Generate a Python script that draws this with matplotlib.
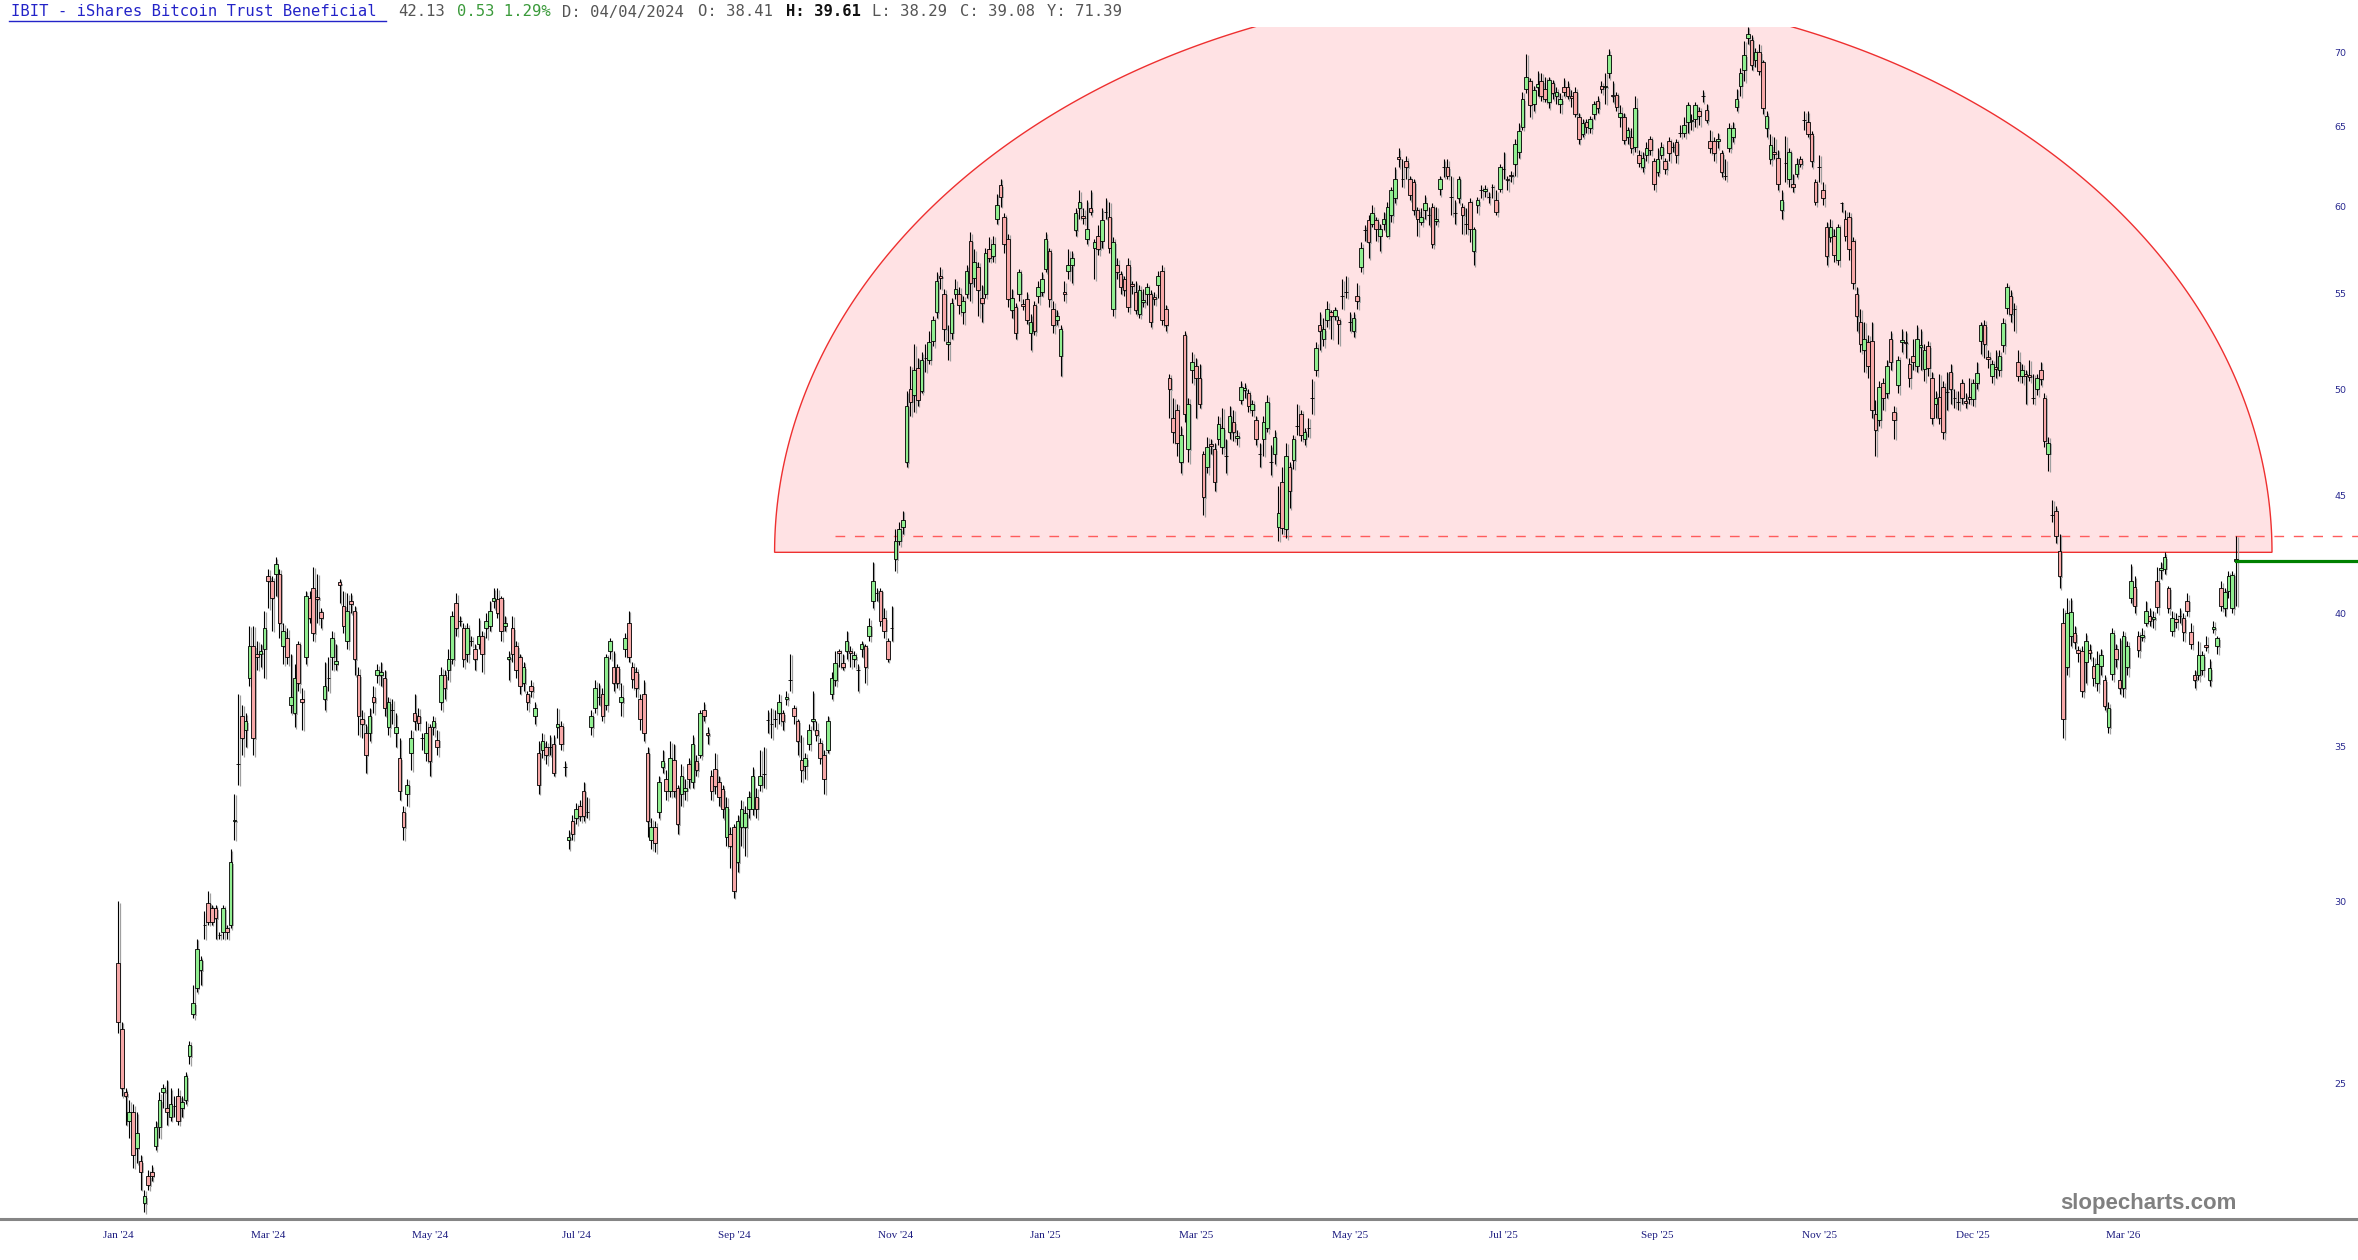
import numpy as np
import matplotlib
matplotlib.use("Agg")
import matplotlib.pyplot as plt
from matplotlib.lines import Line2D
from matplotlib.patches import Polygon
from matplotlib.ticker import FixedLocator, NullLocator

# daily bars (open, high, low, close)
ohlc_jan_apr_2024 = [
    (28.2, 30.0, 26.3, 26.6), (26.4, 26.6, 24.7, 24.9), (24.8, 24.9, 24.0, 24.7), (24.1, 24.6, 23.7, 24.3),
    (24.3, 24.5, 23.0, 23.3), (23.45, 24.3, 23.1, 23.8), (23.15, 23.3, 22.5, 22.9), (22.2, 22.5, 22.0, 22.35),
    (22.8, 22.95, 22.5, 22.6), (22.9, 23.05, 22.7, 22.8), (23.5, 24.1, 23.4, 23.95), (23.95, 24.8, 23.7, 24.6),
    (24.8, 25.0, 24.4, 24.9), (24.4, 25.1, 24.0, 24.3), (24.2, 24.9, 24.1, 24.5), (24.45, 24.7, 24.2, 24.45),
    (24.7, 24.9, 24.0, 24.1), (24.4, 24.7, 24.2, 24.55), (24.6, 25.3, 24.5, 25.2), (25.7, 26.1, 25.5, 26.0),
    (26.8, 27.6, 26.7, 27.1), (27.5, 28.9, 27.4, 28.6), (28.0, 28.4, 27.6, 28.3), (29.3, 29.7, 28.9, 29.3),
    (29.95, 30.3, 29.3, 29.4), (29.8, 29.9, 29.3, 29.4), (29.8, 29.9, 28.9, 29.5), (29.0, 29.1, 28.9, 29.0),
    (29.1, 29.9, 28.9, 29.8), (29.2, 29.3, 28.9, 29.1), (29.3, 31.6, 29.2, 31.2), (32.5, 33.4, 31.9, 32.55),
    (34.4, 36.9, 33.7, 34.4), (36.1, 36.5, 34.7, 35.3), (35.6, 36.2, 35.0, 35.9), (37.5, 39.5, 37.2, 38.7),
    (38.7, 39.5, 34.7, 35.3), (38.4, 38.9, 37.8, 38.3), (38.4, 38.8, 37.9, 38.5), (38.6, 40.1, 37.5, 39.4),
    (41.5, 41.8, 40.2, 41.3), (41.3, 41.5, 39.3, 40.6), (41.6, 42.3, 40.7, 42.0), (41.6, 41.8, 39.0, 39.6),
    (38.7, 39.6, 38.0, 39.3), (39.0, 39.4, 38.0, 38.3), (36.5, 38.4, 36.2, 36.8), (36.2, 38.0, 35.7, 37.5),
    (38.8, 38.9, 37.0, 37.3), (36.7, 37.1, 35.6, 36.6), (38.3, 40.9, 38.0, 40.7), (40.6, 40.9, 39.6, 39.8),
    (41.0, 41.9, 38.9, 39.2), (40.65, 41.6, 39.6, 40.55), (40.05, 40.2, 39.4, 39.8), (36.7, 38.1, 36.3, 37.2),
    (37.5, 38.3, 37.0, 37.5), (38.3, 39.3, 37.8, 39.0), (38.0, 38.8, 37.8, 38.15), (41.25, 41.4, 40.4, 41.15),
    (40.3, 40.9, 39.2, 39.5), (38.9, 40.8, 38.6, 40.1), (40.5, 40.8, 40.0, 40.35), (40.1, 40.3, 37.6, 38.2),
    (37.6, 37.9, 35.4, 36.1), (36.0, 36.3, 35.3, 35.8), (35.5, 35.8, 34.1, 34.7), (35.5, 36.4, 35.2, 36.1),
    (36.8, 37.2, 36.2, 36.6), (37.6, 38.0, 37.3, 37.8), (37.6, 38.1, 37.2, 37.7), (37.5, 37.8, 36.1, 36.4),
    (35.7, 36.8, 35.4, 36.6), (36.3, 36.7, 35.8, 36.3), (35.5, 36.2, 35.0, 35.7), (34.6, 35.3, 33.2, 33.5),
]
ohlc_apr_aug_2024 = [
    (32.8, 33.0, 31.9, 32.3), (33.4, 33.9, 33.0, 33.7), (34.8, 35.6, 34.2, 35.3), (36.2, 36.9, 35.6, 35.9),
    (36.1, 36.4, 35.6, 35.85), (35.3, 35.5, 34.9, 35.3), (34.8, 35.9, 34.5, 35.5), (35.7, 35.8, 34.0, 34.5),
    (35.7, 36.1, 35.4, 35.9), (35.25, 35.6, 34.7, 35.0), (36.6, 37.9, 36.3, 37.6), (37.6, 37.8, 36.7, 37.1),
    (37.8, 38.6, 37.4, 38.2), (38.2, 40.1, 38.0, 39.9), (40.4, 40.8, 39.1, 39.4), (39.7, 39.9, 39.5, 39.7),
    (39.4, 39.6, 37.9, 38.2), (38.4, 39.6, 38.1, 39.4), (38.9, 39.1, 38.7, 38.9), (38.6, 38.8, 37.8, 38.2),
    (38.8, 39.8, 38.6, 39.1), (39.1, 39.3, 37.7, 38.4), (39.4, 40.0, 39.0, 39.7), (39.5, 40.5, 39.3, 40.1),
    (40.5, 41.0, 40.2, 40.6), (40.55, 41.0, 39.8, 40.0), (40.6, 40.7, 38.9, 39.3), (39.5, 39.9, 39.3, 39.6),
    (38.2, 38.5, 37.4, 38.3), (39.4, 39.9, 38.1, 38.4), (38.7, 38.9, 37.5, 37.8), (38.3, 38.4, 36.9, 37.2),
    (37.3, 38.1, 37.0, 37.9), (36.9, 37.0, 36.3, 36.6), (37.2, 37.4, 36.8, 37.0), (36.1, 36.6, 35.8, 36.4),
    (34.8, 35.2, 33.4, 33.7), (34.9, 35.5, 34.6, 35.2), (35.0, 35.2, 34.4, 34.7), (35.0, 35.4, 34.7, 35.0),
    (35.1, 35.4, 34.0, 34.1), (35.7, 36.4, 35.3, 35.8), (35.75, 35.9, 34.9, 35.1), (34.3, 34.5, 34.0, 34.3),
    (31.9, 32.2, 31.6, 32.0), (32.5, 32.7, 31.9, 32.1), (32.6, 33.1, 32.4, 32.9), (33.0, 33.2, 32.5, 32.65),
    (33.5, 33.8, 32.5, 32.65), (32.8, 33.3, 32.6, 32.8), (35.7, 36.3, 35.4, 36.1), (36.4, 37.4, 36.2, 37.1),
    (36.8, 37.3, 36.5, 36.8), (36.9, 37.1, 35.9, 36.1), (36.5, 38.4, 36.3, 38.3), (38.5, 39.0, 38.2, 38.9),
    (37.9, 38.5, 37.0, 37.3), (37.9, 38.0, 37.1, 37.3), (36.6, 37.3, 36.1, 36.8), (38.6, 39.2, 38.3, 39.0),
    (39.6, 40.1, 38.1, 38.3), (37.9, 38.1, 37.1, 37.45), (37.7, 37.9, 36.8, 37.1), (36.7, 36.9, 35.6, 36.0),
    (36.9, 37.4, 35.2, 35.5), (34.8, 35.0, 32.0, 32.5), (31.9, 32.6, 31.6, 32.3), (32.3, 32.5, 31.5, 31.8),
    (32.8, 34.0, 32.6, 33.8), (34.3, 34.9, 34.1, 34.5), (33.9, 34.2, 33.2, 33.5), (33.5, 35.2, 33.3, 34.6),
    (34.55, 35.1, 33.3, 33.5), (33.6, 33.7, 32.1, 32.4), (33.4, 34.4, 33.0, 34.0), (33.5, 33.9, 33.2, 33.6),
    (34.4, 34.6, 33.6, 33.9), (33.8, 35.4, 33.6, 35.1), (34.5, 34.7, 34.0, 34.2), (34.7, 36.3, 34.6, 36.2),
    (36.3, 36.6, 35.9, 36.1), (35.5, 35.7, 35.1, 35.4),
]
ohlc_aug_nov_2024 = [
    (34.0, 34.2, 33.2, 33.5), (34.25, 34.8, 33.4, 33.65), (33.8, 34.0, 33.0, 33.3), (33.55, 33.7, 32.6, 32.9),
    (32.0, 33.3, 31.7, 32.95), (32.1, 32.3, 31.0, 31.7), (32.3, 32.4, 30.1, 30.3), (31.2, 32.7, 30.9, 32.5),
    (32.3, 33.2, 31.7, 32.9), (32.3, 33.0, 31.4, 32.75), (32.9, 33.5, 32.6, 33.3), (32.9, 34.3, 32.7, 34.0),
    (33.3, 33.6, 32.6, 32.9), (33.7, 34.9, 33.5, 34.0), (34.05, 35.0, 33.6, 34.05), (35.95, 36.3, 35.5, 35.95),
    (35.8, 36.4, 35.3, 35.8), (36.0, 36.3, 35.7, 36.0), (36.2, 36.9, 35.8, 36.6), (36.2, 36.3, 35.6, 35.9),
    (36.7, 37.0, 36.5, 36.8), (37.4, 38.4, 37.0, 37.4), (36.4, 36.5, 35.8, 36.1), (35.9, 36.0, 34.7, 35.2),
    (34.55, 35.4, 33.8, 34.2), (34.35, 34.8, 33.9, 34.6), (35.1, 35.8, 34.9, 35.6), (35.9, 37.0, 35.6, 36.0),
    (35.6, 35.9, 35.2, 35.4), (35.15, 35.3, 34.4, 34.6), (34.7, 34.9, 33.4, 33.9), (34.9, 36.1, 34.8, 35.9),
    (36.9, 37.7, 36.7, 37.5), (37.4, 38.5, 37.2, 38.05), (38.5, 38.6, 37.9, 38.45), (38.05, 38.4, 37.8, 37.9),
    (38.5, 39.3, 38.2, 38.9), (38.5, 38.7, 37.9, 38.45), (38.2, 38.5, 37.9, 38.35), (37.8, 38.0, 37.0, 37.8),
    (38.6, 38.9, 38.3, 38.8), (38.7, 38.8, 37.3, 37.9), (39.1, 39.8, 38.9, 39.5), (40.5, 42.1, 40.2, 41.3),
    (40.8, 41.0, 40.5, 40.8), (40.9, 41.0, 39.5, 39.7), (39.8, 40.2, 39.0, 39.3), (38.9, 39.0, 38.1, 38.2),
    (39.4, 40.3, 38.9, 39.4), (42.2, 43.5, 41.7, 43.0),
]
ohlc_nov_dec_2024 = [
    (43.0, 43.8, 42.8, 43.5), (43.6, 44.3, 43.3, 43.9), (46.5, 49.9, 46.3, 49.2), (50.0, 51.2, 48.7, 49.4),
    (49.7, 52.3, 48.9, 51.0), (51.1, 51.6, 49.2, 49.5), (49.9, 51.9, 49.8, 51.5), (51.6, 52.3, 50.9, 51.6),
    (51.5, 53.0, 51.3, 52.4), (52.5, 53.8, 52.2, 53.6), (54.0, 56.2, 53.7, 55.7), (56.0, 56.5, 55.3, 55.9),
    (55.0, 55.3, 52.5, 53.1), (52.3, 53.3, 51.5, 52.4), (52.9, 54.8, 52.6, 54.5), (55.0, 55.8, 54.7, 55.3),
    (55.0, 55.4, 53.9, 54.4), (54.0, 54.9, 53.4, 54.6), (55.0, 56.6, 54.8, 56.3), (58.0, 58.5, 54.6, 55.6),
    (55.9, 57.5, 55.4, 56.8), (56.5, 56.8, 53.8, 55.2), (54.8, 55.5, 53.5, 54.5), (55.0, 57.6, 54.8, 57.3),
    (57.5, 58.2, 56.8, 57.0),
]
ohlc_dec24_apr25 = [
    (57.1, 58.3, 56.8, 57.8), (59.3, 60.8, 59.0, 60.1), (61.3, 61.7, 60.0, 60.6), (59.4, 59.6, 57.3, 57.8),
    (58.1, 58.4, 54.3, 54.7), (54.1, 55.3, 53.7, 54.8), (54.3, 54.5, 52.6, 52.9), (55.0, 56.4, 54.6, 56.2),
    (54.45, 54.7, 54.1, 54.35), (54.7, 55.1, 53.4, 53.6), (52.9, 53.9, 52.0, 53.5), (54.4, 54.6, 52.8, 53.0),
    (54.9, 55.7, 54.5, 55.4), (55.1, 56.2, 54.9, 55.8), (56.4, 58.5, 56.2, 58.1), (57.4, 57.6, 54.3, 54.7),
    (54.2, 54.6, 52.9, 53.3), (53.6, 54.1, 53.3, 53.8), (51.7, 53.3, 50.7, 53.1), (55.1, 55.7, 54.6, 55.0),
    (56.3, 57.5, 55.8, 56.6), (56.6, 57.4, 55.6, 57.0), (58.6, 59.9, 58.3, 59.6), (59.9, 61.0, 59.3, 60.3),
    (59.45, 59.9, 59.0, 59.35), (58.1, 60.4, 57.8, 58.7), (59.9, 61.0, 59.5, 59.7), (57.6, 58.1, 55.8, 57.9),
    (58.3, 58.9, 57.2, 57.5), (58.0, 59.9, 57.6, 59.2), (59.7, 60.5, 59.3, 59.7), (59.4, 60.3, 57.3, 57.6),
    (54.2, 58.2, 53.8, 57.9), (56.6, 57.0, 55.8, 56.2), (56.1, 56.3, 55.0, 55.4), (55.8, 56.0, 54.9, 55.2),
    (56.6, 57.0, 54.0, 54.3), (55.55, 55.7, 55.0, 55.45), (55.1, 55.7, 53.9, 54.1), (53.9, 55.5, 53.7, 55.2),
    (54.55, 55.3, 54.3, 54.65), (55.0, 55.6, 54.4, 55.4), (55.0, 55.2, 53.2, 53.5), (54.85, 55.1, 54.4, 54.75),
    (55.5, 56.3, 54.8, 56.0), (56.3, 56.6, 53.3, 53.6), (54.2, 54.4, 53.0, 53.3), (50.6, 50.8, 48.6, 50.0),
    (48.6, 49.6, 47.4, 47.9), (49.0, 49.3, 46.8, 47.4), (46.5, 48.2, 46.0, 47.8), (52.8, 53.0, 48.4, 48.8),
    (47.1, 49.6, 46.5, 49.3), (51.0, 51.9, 50.3, 51.4), (51.2, 51.6, 48.6, 50.6), (50.6, 51.3, 49.1, 49.3),
    (46.9, 47.0, 44.1, 44.9), (46.3, 47.7, 46.0, 47.2), (47.35, 47.6, 46.9, 47.25), (47.1, 47.4, 45.2, 45.6),
    (47.6, 48.7, 47.3, 48.3), (47.2, 49.1, 46.9, 48.1), (46.8, 47.6, 46.0, 46.8), (47.9, 49.2, 47.6, 48.7),
    (48.4, 49.0, 47.5, 47.9), (47.65, 48.0, 47.3, 47.75), (49.5, 50.4, 49.3, 50.1), (49.95, 50.3, 49.6, 50.05),
    (49.8, 50.0, 48.9, 49.2), (49.0, 49.5, 48.7, 49.3), (48.5, 48.7, 47.3, 47.6), (46.9, 47.4, 46.3, 46.9),
    (47.6, 48.7, 46.8, 48.4), (48.1, 49.7, 47.9, 49.4), (46.5, 47.3, 45.9, 46.5), (46.9, 48.0, 46.4, 47.7),
    (43.6, 45.4, 43.0, 44.2), (45.6, 46.3, 43.3, 43.55), (43.5, 47.4, 43.1, 46.8), (46.3, 46.5, 44.4, 45.2),
    (46.6, 47.8, 46.2, 47.6), (48.2, 49.3, 47.8, 48.2), (48.8, 49.0, 47.5, 47.8), (47.6, 48.1, 47.3, 47.9),
    (48.1, 48.6, 47.7, 48.1),
]
ohlc_apr_jul_2025 = [
    (49.6, 50.5, 48.8, 49.6), (51.0, 52.4, 50.7, 52.1), (53.3, 54.0, 52.0, 53.0), (52.6, 53.7, 52.2, 53.1),
    (53.6, 54.6, 53.2, 54.2), (54.0, 54.1, 52.6, 53.8), (53.8, 54.3, 53.6, 54.1), (53.6, 53.8, 52.3, 53.4),
    (54.9, 55.8, 54.2, 54.9), (55.1, 56.0, 54.8, 55.1), (53.5, 54.0, 53.0, 53.5), (53.0, 54.0, 52.7, 53.7),
    (54.9, 55.6, 54.2, 54.6), (56.5, 57.9, 56.2, 57.6), (58.6, 58.9, 58.0, 58.6), (59.2, 59.5, 57.0, 57.9),
    (59.0, 60.1, 58.8, 59.6), (59.2, 59.4, 58.0, 58.7), (58.3, 59.0, 57.4, 58.7), (59.0, 59.7, 58.6, 59.3),
    (58.3, 60.3, 58.2, 60.0), (59.5, 61.2, 59.1, 61.0), (60.5, 62.4, 60.2, 61.7), (63.05, 63.6, 62.4, 62.95),
    (61.7, 62.9, 61.2, 61.7), (62.8, 63.1, 61.7, 62.4), (61.7, 61.9, 60.4, 60.7), (61.5, 61.7, 59.5, 59.8),
    (59.8, 60.0, 58.3, 59.3), (59.1, 59.9, 58.9, 59.4), (59.8, 60.7, 59.3, 60.2), (59.5, 60.0, 58.9, 59.5),
    (60.0, 60.2, 57.6, 57.8), (59.15, 60.0, 58.9, 59.25), (61.1, 61.9, 60.7, 61.7), (62.4, 62.9, 61.8, 62.4),
    (62.4, 62.9, 61.7, 61.9), (60.6, 61.9, 59.5, 60.6), (59.6, 60.4, 59.0, 59.6), (60.5, 61.9, 60.2, 61.7),
    (60.0, 60.2, 58.4, 59.5), (59.0, 59.9, 58.4, 59.0), (60.3, 60.5, 57.9, 58.7), (57.4, 58.8, 56.6, 58.7),
    (60.1, 60.6, 59.6, 60.4), (61.0, 61.3, 60.5, 61.0), (60.95, 61.3, 60.6, 61.05), (60.6, 60.9, 60.2, 60.6),
    (61.2, 61.4, 60.5, 61.2), (60.4, 61.0, 59.5, 59.7), (61.1, 62.6, 60.9, 62.4), (62.3, 63.4, 61.7, 62.3),
    (61.7, 61.9, 61.0, 61.6), (61.95, 62.2, 61.5, 61.85), (62.6, 64.2, 61.9, 63.9), (63.4, 65.2, 63.0, 64.7),
]
ohlc_jul_aug_2025 = [
    (65.0, 67.3, 64.8, 66.8), (67.5, 69.9, 67.2, 68.3), (68.0, 68.2, 65.6, 66.4), (66.5, 67.7, 66.0, 67.4),
    (67.6, 68.7, 67.0, 67.8), (68.0, 68.6, 66.7, 67.0), (67.5, 68.3, 66.6, 66.8), (66.6, 68.3, 66.2, 68.1),
    (67.9, 68.1, 66.8, 67.2), (67.0, 67.6, 66.5, 67.3), (66.5, 67.2, 65.9, 66.8), (67.6, 68.2, 67.0, 67.3),
    (67.6, 68.0, 66.8, 67.0), (67.0, 67.4, 66.3, 66.9), (67.3, 67.6, 65.6, 65.8), (65.6, 65.9, 63.9, 64.2),
    (64.5, 65.5, 64.3, 65.2), (65.3, 65.5, 64.6, 65.0), (64.9, 65.7, 64.6, 65.5), (65.8, 66.7, 65.5, 66.5),
    (66.7, 67.0, 65.9, 66.2),
]
ohlc_aug_nov_2025 = [
    (67.7, 68.0, 67.2, 67.5), (67.6, 68.6, 66.5, 67.7), (68.6, 70.2, 68.2, 69.8), (67.1, 68.0, 66.6, 67.0),
    (67.1, 67.3, 66.0, 66.3), (65.6, 66.4, 65.0, 65.9), (65.6, 65.9, 63.9, 64.15), (64.3, 65.0, 63.9, 64.8),
    (64.3, 64.9, 63.3, 63.6), (63.7, 67.0, 63.4, 66.2), (63.2, 63.5, 62.4, 62.7), (62.4, 63.4, 62.1, 63.0),
    (63.2, 64.0, 62.8, 63.6), (64.2, 64.4, 63.2, 63.5), (62.8, 63.0, 61.0, 61.4), (62.1, 63.6, 61.9, 62.9),
    (63.2, 64.0, 62.9, 63.7), (62.8, 63.0, 62.0, 62.3), (64.1, 64.3, 62.8, 63.3), (63.7, 64.0, 63.4, 63.7),
    (64.0, 64.2, 62.7, 63.2), (64.6, 65.1, 64.3, 64.6), (64.6, 65.6, 64.3, 65.1), (65.3, 66.6, 64.6, 66.4),
    (65.35, 65.8, 64.8, 65.45), (65.5, 66.6, 65.0, 66.4), (66.0, 66.3, 65.1, 65.7), (67.0, 67.4, 66.6, 67.0),
    (66.1, 66.5, 65.2, 65.4), (64.1, 64.8, 63.3, 63.6), (64.1, 64.3, 62.8, 63.3), (64.1, 64.6, 63.6, 64.2),
    (63.3, 63.5, 61.8, 62.1), (61.9, 62.9, 61.6, 61.9), (63.6, 65.2, 63.4, 64.9), (64.3, 65.3, 64.0, 64.9),
    (66.3, 67.5, 66.0, 66.8), (67.7, 68.9, 67.0, 68.6), (68.8, 70.8, 68.0, 69.8), (71.0, 71.8, 70.6, 71.3),
    (70.9, 71.2, 68.8, 69.1), (69.5, 70.3, 69.0, 70.0), (70.0, 70.6, 68.4, 68.7), (69.3, 69.5, 65.8, 66.2),
    (64.9, 66.0, 64.3, 65.7), (62.9, 64.5, 62.6, 63.8), (63.35, 64.3, 62.9, 63.25), (63.0, 63.5, 61.0, 61.4),
    (59.8, 61.0, 59.3, 60.4), (62.7, 64.4, 61.5, 62.7), (61.7, 63.6, 61.2, 63.4), (61.4, 62.0, 60.9, 61.2),
    (62.0, 63.0, 61.8, 62.6), (62.9, 63.1, 62.4, 62.6), (65.4, 66.0, 64.8, 65.4), (65.3, 66.0, 64.3, 64.5),
    (64.5, 64.7, 62.4, 62.8), (61.5, 61.7, 60.1, 60.3), (62.4, 63.2, 61.5, 62.4), (61.0, 61.5, 60.1, 60.5),
    (58.8, 59.1, 56.6, 57.1), (58.2, 59.3, 57.9, 58.8), (58.3, 58.7, 56.8, 57.2), (56.9, 59.0, 56.6, 58.8),
    (60.2, 60.3, 59.7, 60.2), (59.3, 59.8, 58.0, 58.3), (59.4, 59.7, 56.9, 57.5), (58.0, 58.2, 55.3, 55.6),
]
ohlc_nov_2025 = [
    (55.0, 55.4, 53.0, 53.8), (53.5, 54.2, 51.9, 52.3), (52.0, 53.5, 50.9, 52.6), (52.4, 52.8, 50.6, 51.2),
    (52.5, 53.5, 48.6, 49.0), (48.8, 49.5, 46.8, 48.0), (48.5, 50.4, 48.2, 50.1), (50.3, 50.6, 49.0, 49.6),
    (49.8, 51.5, 49.6, 51.2),
]
ohlc_nov25_apr26 = [
    (52.6, 53.0, 51.0, 51.4), (48.9, 49.2, 47.6, 48.5), (50.2, 51.7, 49.8, 51.5), (52.45, 53.1, 51.9, 52.55),
    (52.45, 53.0, 51.6, 52.35), (51.3, 51.6, 50.1, 50.6), (51.7, 52.6, 51.0, 51.4), (51.2, 53.3, 50.9, 52.6),
    (52.15, 53.1, 51.0, 52.25), (51.05, 52.3, 50.4, 52.0), (52.2, 52.5, 50.7, 51.1), (50.6, 50.9, 48.3, 48.6),
    (49.3, 49.9, 48.6, 49.6), (49.65, 50.8, 48.3, 48.6), (50.1, 50.4, 47.6, 47.9), (49.85, 50.9, 49.0, 49.85),
    (50.9, 51.3, 49.3, 50.0), (49.6, 50.0, 49.1, 49.6), (49.4, 49.9, 49.0, 49.4), (50.3, 50.5, 49.3, 49.6),
    (49.45, 49.8, 49.1, 49.35), (49.65, 50.6, 49.3, 49.55), (49.55, 50.5, 49.2, 50.3), (50.3, 51.4, 50.0, 50.85),
    (52.5, 53.5, 51.8, 53.3), (53.3, 53.6, 51.6, 52.3), (51.65, 52.0, 51.1, 51.55), (50.7, 51.5, 50.3, 51.3),
    (51.15, 52.0, 50.6, 51.05), (51.0, 52.0, 50.7, 51.7), (52.25, 53.7, 51.9, 53.45), (54.25, 55.6, 53.9, 55.4),
    (54.9, 55.2, 53.5, 53.9), (54.2, 54.5, 53.0, 54.2), (51.4, 52.0, 50.4, 50.7), (50.7, 51.3, 50.3, 51.0),
    (50.8, 51.0, 49.3, 50.7), (50.75, 51.5, 50.4, 50.65), (49.6, 50.8, 49.3, 49.6), (50.0, 50.8, 49.7, 50.6),
    (51.0, 51.4, 50.2, 50.5), (49.6, 49.8, 47.2, 47.5), (46.9, 47.7, 46.1, 47.4), (44.1, 44.8, 43.8, 44.1),
    (44.3, 44.5, 42.9, 43.2), (42.55, 43.3, 41.0, 41.5), (39.6, 40.2, 35.3, 36.0), (37.9, 40.6, 37.6, 40.0),
    (39.1, 40.6, 38.7, 40.05), (39.2, 39.5, 38.6, 38.85), (38.55, 38.7, 38.1, 38.45), (38.5, 38.7, 36.8, 37.0),
    (38.1, 39.2, 37.3, 38.9), (38.55, 38.8, 38.2, 38.45), (37.95, 38.3, 37.2, 37.5), (37.3, 38.5, 37.0, 38.0),
    (37.95, 38.6, 37.6, 38.35), (37.4, 37.6, 36.3, 36.45), (35.7, 36.6, 35.5, 36.4), (37.65, 39.4, 37.4, 39.2),
    (38.6, 38.8, 37.9, 38.2), (37.4, 39.0, 36.9, 37.1), (37.1, 39.3, 36.8, 39.1), (37.9, 38.9, 37.6, 38.7),
    (40.6, 42.0, 40.4, 41.3), (41.05, 41.5, 40.0, 40.3), (39.1, 39.3, 38.3, 38.55), (39.05, 39.4, 38.9, 39.15),
    (39.6, 40.5, 39.5, 40.1), (39.9, 40.2, 39.5, 39.7), (39.75, 40.1, 39.4, 39.85), (41.3, 41.9, 40.0, 40.25),
    (41.75, 42.1, 41.4, 41.85), (41.8, 42.5, 41.6, 42.3), (41.0, 41.1, 40.0, 40.2), (39.3, 40.1, 39.1, 39.8),
    (39.75, 40.0, 39.4, 39.65), (39.9, 40.2, 39.6, 39.9), (39.8, 40.0, 38.9, 39.25), (40.5, 40.8, 39.9, 40.1),
    (39.25, 39.6, 38.6, 38.8), (37.6, 37.8, 37.1, 37.4), (37.6, 38.9, 37.4, 38.35), (37.8, 38.5, 37.6, 38.35),
    (38.75, 39.1, 38.5, 38.65), (37.4, 38.2, 37.2, 37.85), (39.35, 39.7, 39.2, 39.45), (38.7, 39.1, 38.4, 39.0),
    (41.0, 41.3, 40.1, 40.3), (40.2, 41.0, 39.9, 40.85), (40.9, 41.7, 40.6, 41.5), (40.2, 41.7, 40.0, 41.55),
    (42.2, 43.2, 40.3, 42.13),
]

tick_bars = [0, 40, 83, 122, 164, 207, 247, 287, 328, 369, 410, 453, 494, 534]
tick_labels = ["Jan '24", "Mar '24", "May '24", "Jul '24", "Sep '24", "Nov '24", "Jan '25",
               "Mar '25", "May '25", "Jul '25", "Sep '25", "Nov '25", "Dec '25", "Mar '26"]
price_ticks = [25, 30, 35, 40, 45, 50, 55, 60, 65, 70]

arc_base = 42.5        # flat bottom of the shaded dome
resistance = 43.2      # dashed level
header_parts = [
    ("IBIT - iShares Bitcoin Trust Beneficial", 11, "#2323c8", "normal"),
    ("42.13", 398, "#555555", "normal"),
    ("0.53 1.29%", 457, "#3a9a3a", "normal"),
    ("D: 04/04/2024", 562, "#555555", "normal"),
    ("O: 38.41", 698, "#555555", "normal"),
    ("H: 39.61", 786, "#111111", "bold"),
    ("L: 38.29", 872, "#555555", "normal"),
    ("C: 39.08", 960, "#555555", "normal"),
    ("Y: 71.39", 1047, "#555555", "normal"),
]

W, H, DPI = 2358, 1260, 100
PX_FIRST, PX_LAST = 118, 2236
AX_TOP, AX_BOTTOM = 27, 1219
PX_PER_LN = 1002.0

bars = np.array(ohlc_jan_apr_2024 + ohlc_apr_aug_2024 + ohlc_aug_nov_2024 + ohlc_nov_dec_2024
                + ohlc_dec24_apr25 + ohlc_apr_jul_2025 + ohlc_jul_aug_2025 + ohlc_aug_nov_2025
                + ohlc_nov_2025 + ohlc_nov25_apr26, dtype=float)
opens, highs, lows, closes = bars.T
n = len(bars)
x = np.arange(n)
step = (PX_LAST - PX_FIRST) / (n - 1)

fig = plt.figure(figsize=(W / DPI, H / DPI), dpi=DPI)
ax = fig.add_axes([0, 1 - AX_BOTTOM / H, 1, (AX_BOTTOM - AX_TOP) / H])
ax.set_yscale("log")
ax.set_xlim(-PX_FIRST / step, (W - PX_FIRST) / step)
y_top = 25 * np.exp((1084 - AX_TOP) / PX_PER_LN)
y_bot = 25 * np.exp((1084 - AX_BOTTOM) / PX_PER_LN)
ax.set_ylim(y_bot, y_top)

# shaded dome (half ellipse in screen space)
cx = (1523.3 - PX_FIRST) / step
half_w = 748.7 / step
half_h = 563.0 / PX_PER_LN
t = np.linspace(0, np.pi, 400)
dome_x = cx + half_w * np.cos(t)
dome_y = arc_base * np.exp(half_h * np.sin(t))
dome = Polygon(np.column_stack([dome_x, dome_y]), closed=True, facecolor="#ffe2e4",
               edgecolor="#ee3030", linewidth=1.0, zorder=1)
ax.add_patch(dome)

x_right = (W - PX_FIRST) / step
ax.plot([(835 - PX_FIRST) / step, x_right], [resistance, resistance], color="#ff5c5c",
        linewidth=1.0, linestyle=(0, (7, 7)), zorder=1.5)

# candles with a soft drop shadow
up = closes >= opens
body_lo = np.minimum(opens, closes)
body_h = np.abs(closes - opens)
sdx = 1.6 / step
sfy = np.exp(-1.5 / PX_PER_LN)
ax.vlines(x + sdx, lows * sfy, highs * sfy, color="#a0a0a0", linewidth=0.9, zorder=2)
ax.bar(x + sdx, body_h * sfy, bottom=body_lo * sfy, width=1.0, color="#b0b0b0",
       linewidth=0, zorder=2)
ax.vlines(x, lows, highs, color="black", linewidth=0.8, zorder=3)
ax.bar(x, body_h, bottom=body_lo, width=0.95, color=np.where(up, "#90ee90", "#f7a8a8"),
       edgecolor="black", linewidth=0.6, zorder=4)

ax.plot([x[-1], x_right], [closes[-1], closes[-1]], color="#008000", linewidth=2.3, zorder=5)

# axes styling
for side in ("top", "left", "right"):
    ax.spines[side].set_visible(False)
ax.spines["bottom"].set_color("#858585")
ax.spines["bottom"].set_linewidth(2.2)
ax.set_facecolor("white")

ax.xaxis.set_major_locator(FixedLocator(tick_bars))
ax.set_xticklabels(tick_labels)
ax.tick_params(axis="x", length=0, pad=9, labelsize=8, labelcolor="#1c1c80")
for lab in ax.get_xticklabels():
    lab.set_family("Liberation Serif")

ax.yaxis.tick_right()
ax.yaxis.set_major_locator(FixedLocator(price_ticks))
ax.yaxis.set_minor_locator(NullLocator())
ax.set_yticklabels([str(v) for v in price_ticks])
ax.tick_params(axis="y", length=0, pad=-17, labelsize=6.8, labelcolor="#2a2a90")

# header line
for text, px, color, weight in header_parts:
    fig.text(px / W, 1 - 12 / H, text, ha="left", va="center", fontsize=11.2,
             family="DejaVu Sans Mono", color=color, fontweight=weight)
fig.add_artist(Line2D([9 / W, 386 / W], [1 - 21 / H, 1 - 21 / H], color="#2323c8", linewidth=1.0))

fig.text(2148 / W, 1 - 1203 / H, "slopecharts.com", ha="center", va="center", fontsize=16,
         family=["Liberation Sans Narrow", "Liberation Sans"], fontweight="bold", color="#808080")

fig.savefig("out.png", dpi=DPI, facecolor="white")
